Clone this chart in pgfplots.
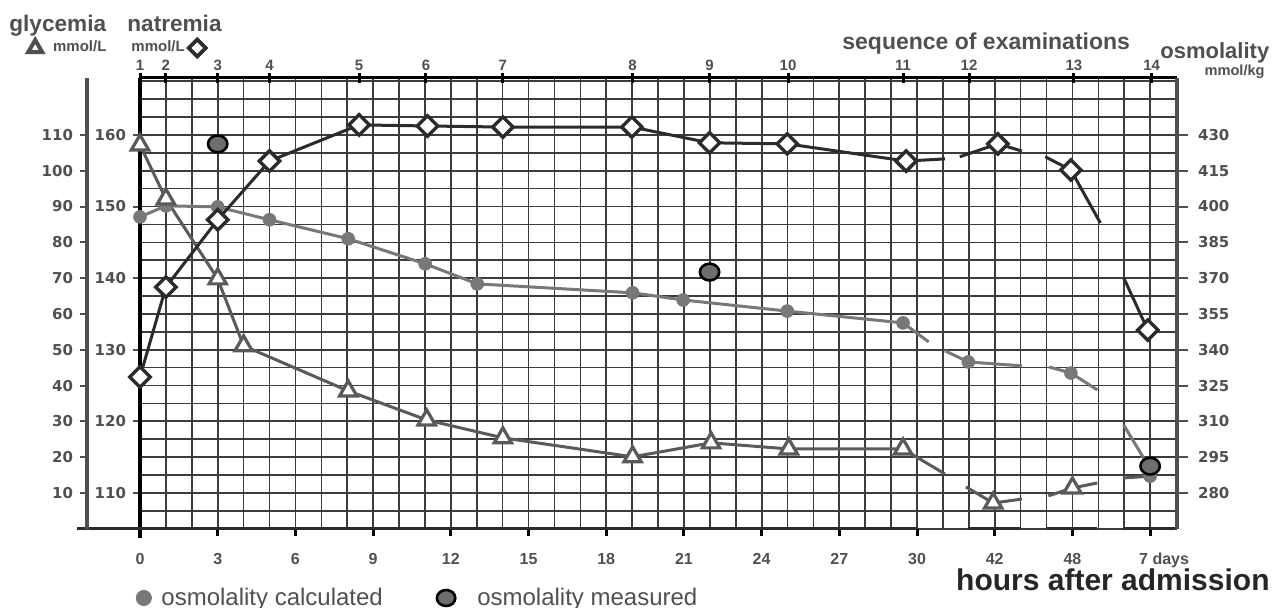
\documentclass[border=0pt]{standalone}
\usepackage{fontspec}
\setmainfont{Liberation Sans}
\newfontfamily\dejavu{DejaVu Sans}
\usepackage{pgfplots}
\pgfplotsset{compat=1.18}
\definecolor{gridc}{HTML}{3C3C3C}
\definecolor{natc}{HTML}{2B2B2B}
\definecolor{glyc}{HTML}{5A5A5A}
\definecolor{osmc}{HTML}{787878}
\definecolor{measc}{HTML}{6E6E6E}
\definecolor{txtc}{HTML}{505050}
\pgfplotsset{base/.style={scale only axis, width=518.5pt, height=225.4pt,
  xmin=0, xmax=13.346, ymin=0, ymax=125.9, at={(0,0)}, anchor=south west, clip=false,
  /pgf/number format/assume math mode=true}}
\begin{document}
\begin{tikzpicture}
\useasboundingbox (-70pt,-39.6pt) rectangle (568.5pt,264.4pt);
% ---------------- main axis: grid, data, bottom and natremia ticks
\begin{axis}[base,
  axis x line*=bottom, axis y line*=left,
  axis line style={draw=none},
  xtick={0,1,2,3,4,5,6,7,8,9,10,11,12,13},
  xticklabels={0,3,6,9,12,15,18,21,24,27,30,42,48,{\hspace*{14pt}7 days}},
  minor xtick={0.3333,0.6667,1.3333,1.6667,2.3333,2.6667,3.3333,3.6667,4.3333,4.6667,5.3333,5.6667,6.3333,6.6667,7.3333,7.6667,8.3333,8.6667,9.3333,9.6667,10.3333,10.6667,11.3333,11.6667,12.3333,12.6667,13.3333},
  ytick={10,30,50,70,90,110},
  yticklabels={110,120,130,140,150,160},
  minor ytick={0,5,...,125},
  grid=both,
  major grid style={draw=gridc, line width=0.9pt},
  minor grid style={draw=gridc, line width=0.8pt},
  tick align=outside, minor tick length=0pt, major tick length=3.5pt,
  xtick style={draw=black, line width=1.5pt},
  ytick style={draw=txtc, line width=1pt},
  xticklabel style={font=\bfseries\fontsize{8}{9}\selectfont, text=txtc, yshift=-5pt,
    text height=6pt, text depth=1.5pt},
  yticklabel style={font=\dejavu\bfseries\fontsize{7.5}{9}\selectfont, text=txtc},
  legend columns=2,
  legend style={draw=none, fill=none, at={(-0.004,-0.1535)}, anchor=west, inner sep=0pt,
    font=\fontsize{12}{14}\selectfont, text=txtc,
    /tikz/every odd column/.append style={column sep=3pt},
    /tikz/every even column/.append style={column sep=25pt}},
]
% frame pieces
\draw[line width=2pt, black] (axis cs:0,-2.7) -- (axis cs:0,125.9);
\draw[line width=1.6pt, color=natc] (axis cs:-0.81,0) -- (axis cs:10,0);
\draw[line width=1.6pt, color=natc] (axis cs:10.66,0) -- (axis cs:11.33,0);
\draw[line width=1.6pt, color=natc] (axis cs:11.67,0) -- (axis cs:12.32,0);
\draw[line width=1.6pt, color=natc] (axis cs:12.65,0) -- (axis cs:13.346,0);
% calculated osmolality lines
\addplot[forget plot, osmc, line width=1.5pt] coordinates {(0,87.1)(0.3333,90.2)(1,89.9)(1.6667,86.3)(2.68,81)(3.67,74)(4.34,68.4)(6.34,65.9)(6.99,63.9)(8.33,60.8)(9.82,57.5)(10.15,52.2)};
\addplot[forget plot, osmc, line width=1.5pt] coordinates {(10.36,49.7)(10.66,46.6)(11.35,45.5)};
\addplot[forget plot, osmc, line width=1.5pt] coordinates {(11.70,45.2)(11.98,43.5)(12.32,38.8)};
\addplot[forget plot, osmc, line width=1.5pt] coordinates {(12.66,29)(12.97,17.8)};
% glycemia lines
\addplot[forget plot, glyc, line width=1.5pt] coordinates {(0,107.2)(0.3333,92.1)(1,69.8)(1.3333,51.1)(2.68,38.5)(3.69,30.4)(4.67,25.4)(6.34,20.1)(7.35,24)(8.35,22.3)(9.82,22.3)(10.36,15.3)};
\addplot[forget plot, glyc, line width=1.5pt] coordinates {(10.63,11.7)(10.98,7.2)(11.35,8.3)};
\addplot[forget plot, glyc, line width=1.5pt] coordinates {(11.69,9.2)(12.0,11.4)(12.32,12.8)};
\addplot[forget plot, glyc, line width=1.5pt] coordinates {(12.66,14.2)(13.0,14.7)};
% natremia lines
\addplot[forget plot, natc, line width=1.5pt] coordinates {(0,42.4)(0.3333,67.5)(1,86.3)(1.6667,102.7)(2.82,112.8)(3.7,112.5)(4.67,112.2)(6.33,112.2)(7.33,107.8)(8.33,107.5)(9.86,102.7)(10.36,103.3)};
\addplot[forget plot, natc, line width=1.5pt] coordinates {(10.55,103.9)(11.04,107.5)(11.35,105.5)};
\addplot[forget plot, natc, line width=1.5pt] coordinates {(11.65,103.9)(11.98,100.2)(12.36,85.4)};
\addplot[forget plot, natc, line width=1.5pt] coordinates {(12.66,70.1)(12.97,55.5)};
% calculated osmolality markers
\addplot[forget plot, only marks, mark=*, mark size=3.2pt, mark options={fill=osmc, draw=osmc}] coordinates {(0,87.1)(0.3333,90.2)(1,89.9)(1.6667,86.3)(2.68,81)(3.67,74)(4.34,68.4)(6.34,65.9)(6.99,63.9)(8.33,60.8)(9.82,57.5)(10.66,46.6)(11.98,43.5)(13.0,14.7)};
% glycemia markers
\addplot[forget plot, only marks, mark=triangle*, mark size=5pt, mark options={fill=white, draw=glyc, line width=1.6pt}] coordinates {(0,107.2)(0.3333,92.1)(1,69.8)(1.3333,51.1)(2.68,38.5)(3.69,30.4)(4.67,25.4)(6.34,20.1)(7.35,24)(8.35,22.3)(9.82,22.3)(10.98,7.2)(12.0,11.4)};
% natremia markers
\addplot[forget plot, only marks, mark=square*, mark size=3.6pt, mark options={rotate=45, fill=white, draw=natc, line width=1.7pt}] coordinates {(0,42.4)(0.3333,67.5)(1,86.3)(1.6667,102.7)(2.82,112.8)(3.7,112.5)(4.67,112.2)(6.33,112.2)(7.33,107.8)(8.33,107.5)(9.86,102.7)(11.04,107.5)(11.98,100.2)(12.97,55.5)};
% measured osmolality
\addplot[forget plot, only marks, mark=*, mark size=4.2pt, mark options={fill=measc, draw=black, line width=1.3pt, xscale=1.15}] coordinates {(1,107.5)(7.33,71.7)(13.0,17.5)};
% legend
\addlegendimage{only marks, mark=*, mark size=3.8pt, mark options={fill=osmc, draw=osmc}}
\addlegendentry{osmolality calculated}
\addlegendimage{only marks, mark=*, mark size=4pt, mark options={fill=measc, draw=black, line width=1.3pt, xscale=1.15}}
\addlegendentry{\hspace*{6pt}osmolality measured}
\end{axis}
% ---------------- top axis: sequence of examinations
\begin{axis}[base,
  axis x line*=top, axis y line=none, ytick=\empty,
  xtick={0,0.3333,1,1.6667,2.82,3.68,4.67,6.34,7.33,8.34,9.82,10.67,12.02,13.02},
  xticklabels={1,2,3,4,5,6,7,8,9,10,11,12,13,14},
  axis line style={line width=1.5pt, draw=black},
  xtick style={draw=black, line width=1.5pt},
  tick align=center, major tick length=5pt,
  xticklabel style={font=\bfseries\fontsize{7.5}{9}\selectfont, text=txtc, yshift=-2.5pt},
  legend plot pos=right,
  legend style={draw=none, fill=none, at={(-0.0125,1.0665)}, anchor=west, inner sep=0pt,
    font=\bfseries\fontsize{7.5}{9}\selectfont, text=txtc},
]
\addlegendimage{only marks, mark=square*, mark size=3pt, mark options={rotate=45, fill=white, draw=natc, line width=1.8pt}}
\addlegendentry{mmol/L}
\end{axis}
% ---------------- glycemia axis
\begin{axis}[base, xshift=-26.5pt,
  axis y line*=left, axis x line=none, xtick=\empty,
  ytick={10,20,30,40,50,60,70,80,90,100,110},
  yticklabels={10,20,30,40,50,60,70,80,90,100,110},
  axis line style={line width=1.6pt, draw=txtc},
  ytick style={draw=txtc, line width=1pt}, tick align=outside, major tick length=3.5pt,
  yticklabel style={font=\dejavu\bfseries\fontsize{7.5}{9}\selectfont, text=txtc},
  legend style={draw=none, fill=none, at={(-0.057,1.0665)}, anchor=west, inner sep=0pt,
    font=\bfseries\fontsize{7.5}{9}\selectfont, text=txtc,
    /tikz/every odd column/.append style={column sep=3.5pt}},
]
\addlegendimage{only marks, mark=triangle*, mark size=4pt, mark options={fill=white, draw=txtc, line width=2pt}}
\addlegendentry{mmol/L}
\end{axis}
% ---------------- osmolality axis (right)
\begin{axis}[base,
  axis y line*=right, axis x line=none, xtick=\empty,
  ytick={10,20,30,40,50,60,70,80,90,100,110},
  yticklabels={280,295,310,325,340,355,370,385,400,415,430},
  axis line style={line width=2pt, draw=txtc},
  ytick style={draw=txtc, line width=1pt}, tick align=outside, major tick length=5.5pt,
  yticklabel style={font=\dejavu\bfseries\fontsize{7.5}{9}\selectfont, text=txtc, xshift=1.5pt},
]
\end{axis}
% ---------------- titles
\node[anchor=base west, font=\bfseries\fontsize{11.3}{13}\selectfont, text=txtc, inner sep=0pt] at (-65.5pt,248.4pt) {glycemia};
\node[anchor=base west, font=\bfseries\fontsize{11.3}{13}\selectfont, text=txtc, inner sep=0pt] at (-6.5pt,248.4pt) {natremia};
\node[anchor=base west, font=\bfseries\fontsize{11.5}{13}\selectfont, text=txtc, inner sep=0pt] at (351pt,239.5pt) {sequence of examinations};
\node[anchor=base west, font=\bfseries\fontsize{11}{13}\selectfont, text=txtc, inner sep=0pt] at (510pt,235pt) {osmolality};
\node[anchor=base east, font=\bfseries\fontsize{7.3}{9}\selectfont, text=txtc, inner sep=0pt] at (562.5pt,226.4pt) {mmol/kg};
\node[anchor=base east, font=\bfseries\fontsize{15}{17}\selectfont, text=black!85, inner sep=0pt] at (565pt,-31pt) {hours after admission};
\end{tikzpicture}
\end{document}
